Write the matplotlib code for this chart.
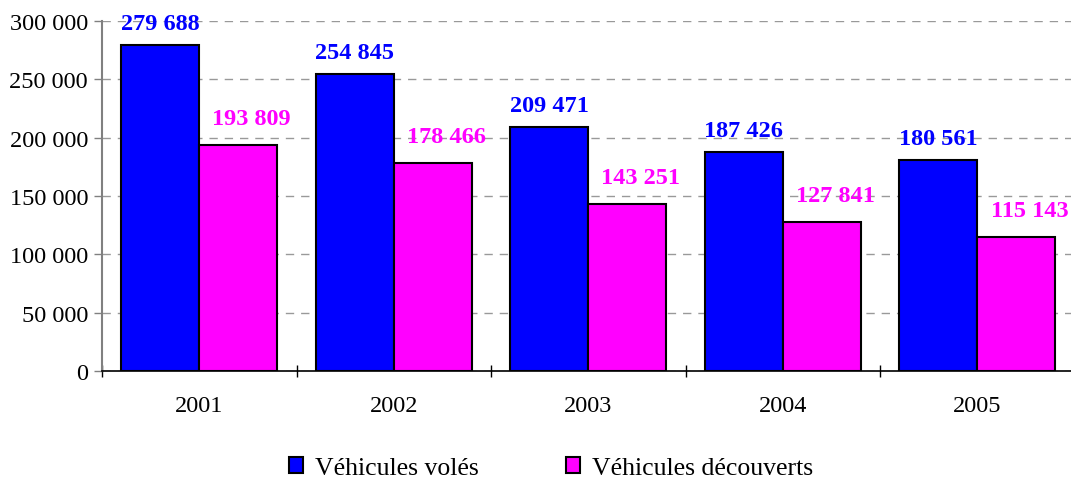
import matplotlib
matplotlib.use("Agg")
import matplotlib.pyplot as plt
from matplotlib.ticker import FuncFormatter, FixedLocator
from matplotlib.patches import Patch
import numpy as np

years = ["2001", "2002", "2003", "2004", "2005"]
voles = [279688, 254845, 209471, 187426, 180561]
decouverts = [193809, 178466, 143251, 127841, 115143]
series_names = ["Véhicules volés", "Véhicules découverts"]
colors = ["#0000FF", "#FF00FF"]

plt.rcParams['font.family'] = ['Liberation Serif', 'DejaVu Serif']

fig = plt.figure(figsize=(10.71, 4.85), dpi=100)
ax = fig.add_axes([102/1071, 113/485, 972.5/1071, 350/485])

x = np.arange(len(years))
w = 0.401
ax.bar(x - w/2, voles, w, color=colors[0], edgecolor="black", linewidth=1.5, zorder=3)
ax.bar(x + w/2, decouverts, w, color=colors[1], edgecolor="black", linewidth=1.5, zorder=3)

def fmt(v):
    return f"{int(v):,}".replace(",", " ")

for xi, v in zip(x, voles):
    ax.annotate(fmt(v), (xi - w/2, v), xytext=(0, 8), textcoords="offset points",
                ha="center", va="bottom", fontsize=17.5, fontweight="bold", color=colors[0], zorder=4)
for xi, v in zip(x, decouverts):
    ax.annotate(fmt(v), (xi + w/2, v), xytext=(9.5, 11.5), textcoords="offset points",
                ha="center", va="bottom", fontsize=17.5, fontweight="bold", color=colors[1], zorder=4)

ax.set_xlim(-0.5, len(years) - 0.5)
ax.set_ylim(0, 300000)
ax.set_yticks(np.arange(0, 300001, 50000))
ax.yaxis.set_major_formatter(FuncFormatter(lambda v, p: fmt(v)))
ax.yaxis.grid(True, linestyle=(0, (6, 5)), color="#999999", linewidth=1, zorder=0)

ax.xaxis.set_major_locator(FixedLocator(np.arange(-0.5, len(years), 1.0)))
ax.xaxis.set_major_formatter(FuncFormatter(lambda v, p: ""))
ax.xaxis.set_minor_locator(FixedLocator(x))
ax.set_xticklabels(years, minor=True)
ax.tick_params(axis="x", which="major", direction="inout", length=8, width=1, color="black")
ax.tick_params(axis="x", which="minor", length=0, pad=17, labelsize=17.5)
ax.tick_params(axis="y", direction="out", length=6, width=1, color="#808080", labelsize=17.5, pad=4)

for s in ["top", "right"]:
    ax.spines[s].set_visible(False)
ax.spines["left"].set_color("#808080")
ax.spines["left"].set_linewidth(1.5)
ax.spines["bottom"].set_color("black")
ax.spines["bottom"].set_linewidth(1.2)

handles = [Patch(facecolor=c, edgecolor="black", linewidth=1.5) for c in colors]
fig.legend(handles, series_names, loc="center", bbox_to_anchor=(551/1071, 1 - 469/485),
           ncol=2, frameon=False, fontsize=18.5, handlelength=0.55, handleheight=0.55,
           handletextpad=0.45, columnspacing=3.4)

fig.savefig("out.png", dpi=100)
